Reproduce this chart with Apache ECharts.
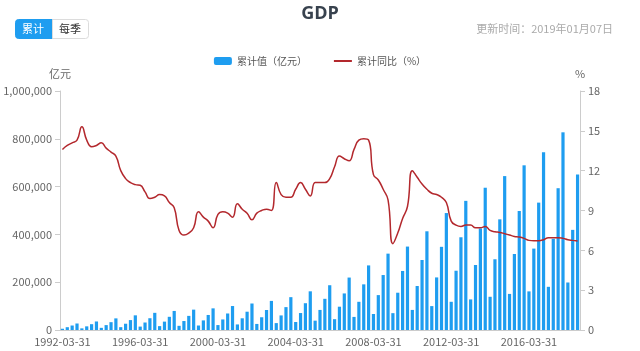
<!DOCTYPE html>
<html style="height: 100%">
<head>
<meta charset="utf-8">
<script src="https://cdn.jsdelivr.net/npm/echarts@6/dist/echarts.min.js"></script>
</head>
<body style="height: 100%; margin: 0; background: #fff">
<div id="container" style="width: 640px; height: 351px"></div>
<script type="text/javascript">
// quarter ends, 1992-03-31 .. 2018-09-30
var quarterEnds = ['03-31', '06-30', '09-30', '12-31'];
var categories = [];
for (var y = 1992; y <= 2018; y++) {
    for (var q = 0; q < 4; q++) {
        if (y === 2018 && q === 3) break;
        categories.push(y + '-' + quarterEnds[q]);
    }
}

// 累计值（亿元）
var cumValue = [
    5262, 11760, 18780, 27195,
    6835, 15290, 24360, 35673,
    9065, 20480, 32780, 48638,
    11859, 26260, 41480, 61340,
    14261, 31350, 49270, 71814,
    16256, 35080, 55220, 79715,
    17501, 37530, 59080, 85196,
    18790, 40200, 62920, 90564,
    20647, 44170, 69100, 100280,
    23299, 48950, 76530, 110863,
    25376, 53340, 83780, 121717,
    28862, 61000, 95730, 137422,
    33420, 71000, 112100, 161840,
    39117, 84000, 130500, 187319,
    45316, 97500, 153000, 219439,
    54756, 118000, 191000, 270232,
    67000, 146000, 230000, 319516,
    70500, 156000, 247000, 349081,
    84000, 184000, 293000, 413030,
    100000, 220000, 348000, 489301,
    118000, 248000, 388000, 540367,
    128000, 272000, 425000, 595244,
    139000, 296000, 463000, 643974,
    151000, 318000, 498000, 689052,
    161572, 340637, 532949, 743586,
    180683, 381490, 593288, 827122,
    198783, 418961, 650899
];

// 累计同比（%）
var cumYoY = [
    13.6, 13.9, 14.1, 14.3,
    15.3, 14.3, 13.8, 13.9,
    14.1, 13.7, 13.4, 13.1,
    12.0, 11.4, 11.1, 10.95,
    10.9, 10.4, 9.9, 10.0,
    10.2, 10.1, 9.6, 9.2,
    7.5, 7.15, 7.3, 7.7,
    8.9, 8.5, 8.2, 7.7,
    8.7, 8.9, 8.8, 8.5,
    9.5, 9.1, 8.8, 8.3,
    8.8, 9.0, 9.1, 9.0,
    11.1, 10.2, 10.0, 10.0,
    10.6, 11.1, 10.6, 10.1,
    11.1, 11.1, 11.1, 11.4,
    12.3, 13.1, 12.9, 12.75,
    13.6, 14.3, 14.4, 14.3,
    11.7, 11.3, 10.6, 9.8,
    6.5, 7.3, 8.4, 9.3,
    12.0, 11.5, 11.0, 10.6,
    10.3, 10.2, 10.0, 9.6,
    8.2, 7.9, 7.8, 7.9,
    7.9, 7.7, 7.7, 7.8,
    7.5, 7.4, 7.35, 7.25,
    7.15, 7.05, 7.0, 6.9,
    6.75, 6.73, 6.73, 6.8,
    6.95, 6.95, 6.95, 6.9,
    6.8, 6.75, 6.7
];

var dom = document.getElementById('container');
var myChart = echarts.init(dom);
var cjk = '"Noto Sans CJK SC", "Noto Sans", sans-serif';

var option = {
    backgroundColor: '#fff',
    textStyle: { fontFamily: cjk },
    title: {
        text: 'GDP',
        left: 'center',
        top: 0,
        textStyle: { fontSize: 18, fontWeight: 'bold', color: '#38424e', fontFamily: '"Open Sans", "Noto Sans", sans-serif' }
    },
    graphic: [
        { type: 'rect', left: 15, top: 19, shape: { width: 37, height: 19, r: [3, 0, 0, 3] },
          style: { fill: '#1e9df0', stroke: '#1e9df0' } },
        { type: 'text', left: 22, top: 23, style: { text: '累计', fill: '#fff', font: '11px ' + cjk } },
        { type: 'rect', left: 52, top: 19, shape: { width: 36, height: 19, r: [0, 3, 3, 0] },
          style: { fill: '#fff', stroke: '#dcdcdc' } },
        { type: 'text', left: 59, top: 23, style: { text: '每季', fill: '#333', font: '11px ' + cjk } },
        { type: 'text', right: 27, top: 23, style: { text: '更新时间：2019年01月07日', fill: '#aaa', font: '11px ' + cjk } }
    ],
    legend: {
        top: 51,
        left: 'center',
        itemWidth: 18,
        itemHeight: 8,
        itemGap: 26,
        textStyle: { fontSize: 10, color: '#555' },
        data: [
            { name: '累计值（亿元）', icon: 'roundRect' },
            { name: '累计同比（%）', itemStyle: { opacity: 0 } }
        ]
    },
    grid: { left: 60, right: 60, top: 91, bottom: 21 },
    xAxis: {
        type: 'category',
        data: categories,
        axisLine: { lineStyle: { color: '#ccc' } },
        axisTick: { show: false },
        axisLabel: { interval: 15, color: '#666', fontSize: 11, margin: 6 }
    },
    yAxis: [{
        type: 'value',
        name: '亿元',
        nameGap: 12,
        nameTextStyle: { color: '#666', fontSize: 11 },
        min: 0,
        max: 1000000,
        interval: 200000,
        axisLine: { show: true, lineStyle: { color: '#ccc' } },
        axisTick: { show: true, lineStyle: { color: '#ccc' } },
        axisLabel: {
            color: '#666', fontSize: 11,
            formatter: function (v) { return v.toLocaleString('en-US'); }
        },
        splitLine: { show: false }
    }, {
        type: 'value',
        name: '%',
        nameGap: 12,
        nameTextStyle: { color: '#666', fontSize: 11 },
        min: 0,
        max: 18,
        interval: 3,
        axisLine: { show: true, lineStyle: { color: '#ccc' } },
        axisTick: { show: true, lineStyle: { color: '#ccc' } },
        axisLabel: { color: '#666', fontSize: 11 },
        splitLine: { show: false }
    }],
    series: [{
        name: '累计值（亿元）',
        type: 'bar',
        data: cumValue,
        barWidth: '66%',
        itemStyle: { color: '#1e9df0' }
    }, {
        name: '累计同比（%）',
        type: 'line',
        yAxisIndex: 1,
        data: cumYoY,
        smooth: true,
        symbol: 'none',
        lineStyle: { color: '#b3282d', width: 1.5 },
        itemStyle: { color: '#b3282d' }
    }]
};
myChart.setOption(option, true);
</script>
</body>
</html>
